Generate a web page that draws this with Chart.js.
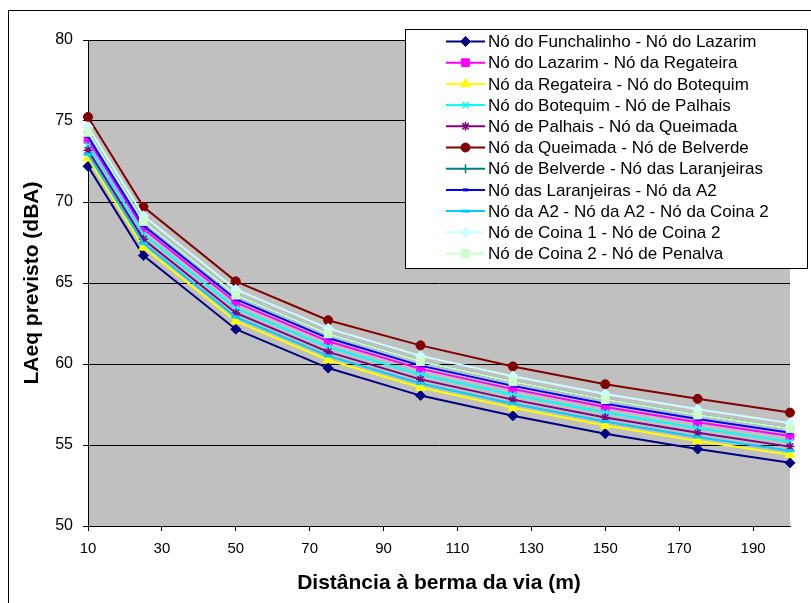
<!DOCTYPE html>
<html>
<head>
<meta charset="utf-8">
<script src="https://cdn.jsdelivr.net/npm/chart.js@4.4.1/dist/chart.umd.min.js"></script>
<style>
  html, body { margin: 0; padding: 0; background: #fff; }
  #wrap { width: 811px; height: 603px; }
</style>
</head>
<body>
<div id="wrap"><canvas id="myChart" width="811" height="603"></canvas></div>
<script>
const distances = [10, 25, 50, 75, 100, 125, 150, 175, 200];
const xTicks = [10, 30, 50, 70, 90, 110, 130, 150, 170, 190];

const funchalinhoLazarim = [72.2, 66.7, 62.15, 59.75, 58.05, 56.8, 55.7, 54.75, 53.9];
const lazarimRegateira = [73.85, 68.35, 63.8, 61.4, 59.7, 58.45, 57.35, 56.4, 55.55];
const regateiraBotequim = [72.7, 67.2, 62.65, 60.25, 58.55, 57.3, 56.2, 55.25, 54.4];
const botequimPalhais = [73.5, 68.0, 63.45, 61.05, 59.35, 58.1, 57.0, 56.05, 55.2];
const palhaisQueimada = [73.2, 67.7, 63.15, 60.75, 59.05, 57.8, 56.7, 55.75, 54.9];
const queimadaBelverde = [75.25, 69.7, 65.1, 62.7, 61.15, 59.85, 58.75, 57.85, 57.0];
const belverdeLaranjeiras = [74.3, 68.8, 64.25, 61.85, 60.15, 58.9, 57.8, 56.85, 56.0];
const laranjeirasA2 = [74.05, 68.55, 64.0, 61.6, 59.9, 58.65, 57.55, 56.6, 55.75];
const a2Coina2 = [72.95, 67.45, 62.9, 60.5, 58.8, 57.55, 56.45, 55.5, 54.65];
const coina1Coina2 = [74.65, 69.15, 64.6, 62.2, 60.5, 59.25, 58.15, 57.2, 56.35];
const coina2Penalva = [74.3, 68.8, 64.25, 61.85, 60.15, 58.9, 57.8, 56.85, 56.0];

const seriesDefs = [
  ['Nó do Funchalinho - Nó do Lazarim', funchalinhoLazarim, '#000080', 'rectRot', 5],
  ['Nó do Lazarim - Nó da Regateira', lazarimRegateira, '#ff00ff', 'rect', 5.5],
  ['Nó da Regateira - Nó do Botequim', regateiraBotequim, '#ffff00', 'triangle', 5.5],
  ['Nó do Botequim - Nó de Palhais', botequimPalhais, '#00ffff', 'crossRot', 4.5],
  ['Nó de Palhais - Nó da Queimada', palhaisQueimada, '#800080', 'star', 4.5],
  ['Nó da Queimada - Nó de Belverde', queimadaBelverde, '#800000', 'circle', 4.5],
  ['Nó de Belverde - Nó das Laranjeiras', belverdeLaranjeiras, '#008080', 'cross', 4.5],
  ['Nó das Laranjeiras - Nó da A2', laranjeirasA2, '#0000ff', 'line', 2.5],
  ['Nó da A2 - Nó da A2 - Nó da Coina 2', a2Coina2, '#00ccff', 'line', 4.5],
  ['Nó de Coina 1 - Nó de Coina 2', coina1Coina2, '#ccffff', 'rectRot', 5],
  ['Nó de Coina 2 - Nó de Penalva', coina2Penalva, '#ccffcc', 'rect', 5.5]
];

function lineBased(style) {
  return style === 'crossRot' || style === 'star' || style === 'cross' || style === 'line';
}

const datasets = seriesDefs.map((s, i) => ({
  label: s[0],
  data: distances.map((d, j) => ({ x: d, y: s[1][j] })),
  borderColor: s[2],
  backgroundColor: s[2],
  borderWidth: 2,
  pointStyle: s[3],
  pointRadius: s[4],
  pointBackgroundColor: s[2],
  pointBorderColor: s[2],
  pointBorderWidth: s[3] === 'line' ? 3 : (lineBased(s[3]) ? 1.5 : 1),
  tension: 0,
  clip: false,
  order: -i
}));

const fontFamily = '"Liberation Sans", Arial, sans-serif';

const chartBackground = {
  id: 'chartBackground',
  beforeDraw(chart) {
    const ctx = chart.ctx;
    const a = chart.chartArea;
    ctx.save();
    ctx.fillStyle = '#ffffff';
    ctx.fillRect(0, 0, chart.width, chart.height);
    ctx.strokeStyle = '#000000';
    ctx.lineWidth = 1;
    ctx.strokeRect(8.5, 10.5, chart.width + 50, chart.height + 50);
    ctx.fillStyle = '#c0c0c0';
    ctx.fillRect(a.left, a.top, a.right - a.left, a.bottom - a.top);
    ctx.restore();
  }
};

const boxLegend = {
  id: 'boxLegend',
  afterDraw(chart) {
    const ctx = chart.ctx;
    ctx.save();
    ctx.fillStyle = '#ffffff';
    ctx.fillRect(405, 29, 402, 239);
    ctx.strokeStyle = '#000000';
    ctx.lineWidth = 1;
    ctx.strokeRect(405.5, 29.5, 402, 239);
    ctx.font = '17px ' + fontFamily;
    ctx.textBaseline = 'middle';
    ctx.textAlign = 'left';
    chart.data.datasets.forEach((ds, i) => {
      const y = 41.5 + i * 21.2;
      ctx.strokeStyle = ds.borderColor;
      ctx.lineWidth = 2;
      ctx.beginPath();
      ctx.moveTo(446, y);
      ctx.lineTo(485, y);
      ctx.stroke();
      ctx.fillStyle = ds.pointBackgroundColor;
      ctx.strokeStyle = ds.pointBorderColor;
      ctx.lineWidth = ds.pointBorderWidth;
      if (Chart.helpers && Chart.helpers.drawPoint) {
        Chart.helpers.drawPoint(ctx, {
          pointStyle: ds.pointStyle,
          rotation: 0,
          radius: ds.pointRadius,
          borderWidth: ds.pointBorderWidth
        }, 465.5, y);
      }
      ctx.fillStyle = '#000000';
      ctx.fillText(ds.label, 488, y + 1);
    });
    ctx.restore();
  }
};

const ctx = document.getElementById('myChart').getContext('2d');
const myChart = new Chart(ctx, {
  type: 'line',
  data: { datasets: datasets },
  options: {
    responsive: false,
    animation: false,
    layout: { padding: { left: 0, top: 40, right: 21, bottom: 0 } },
    scales: {
      x: {
        type: 'linear',
        min: 10,
        max: 200,
        afterBuildTicks: s => { s.ticks = xTicks.map(v => ({ value: v })); },
        afterFit: s => { s.height = 77; },
        grid: { drawOnChartArea: false, drawTicks: true, tickLength: 5, color: '#000000' },
        border: { display: true, color: '#000000', width: 1 },
        ticks: { color: '#000000', font: { family: fontFamily, size: 15 }, padding: 9, maxRotation: 0, autoSkip: false },
        title: {
          display: true,
          text: 'Distância à berma da via (m)',
          color: '#000000',
          font: { family: fontFamily, size: 21, weight: 'bold' },
          padding: { top: 0, bottom: 7 }
        }
      },
      y: {
        min: 50,
        max: 80,
        afterFit: s => { s.width = 88; },
        grid: { color: '#000000', tickLength: 5, lineWidth: 1 },
        border: { display: true, color: '#000000', width: 1 },
        ticks: { stepSize: 5, color: '#000000', font: { family: fontFamily, size: 16 }, padding: 10 },
        title: {
          display: true,
          text: 'LAeq previsto (dBA)',
          color: '#000000',
          font: { family: fontFamily, size: 21, weight: 'bold' },
          padding: { top: 20, bottom: 0 }
        }
      }
    },
    plugins: {
      legend: { display: false },
      tooltip: { enabled: false }
    }
  },
  plugins: [chartBackground, boxLegend]
});
</script>
</body>
</html>
